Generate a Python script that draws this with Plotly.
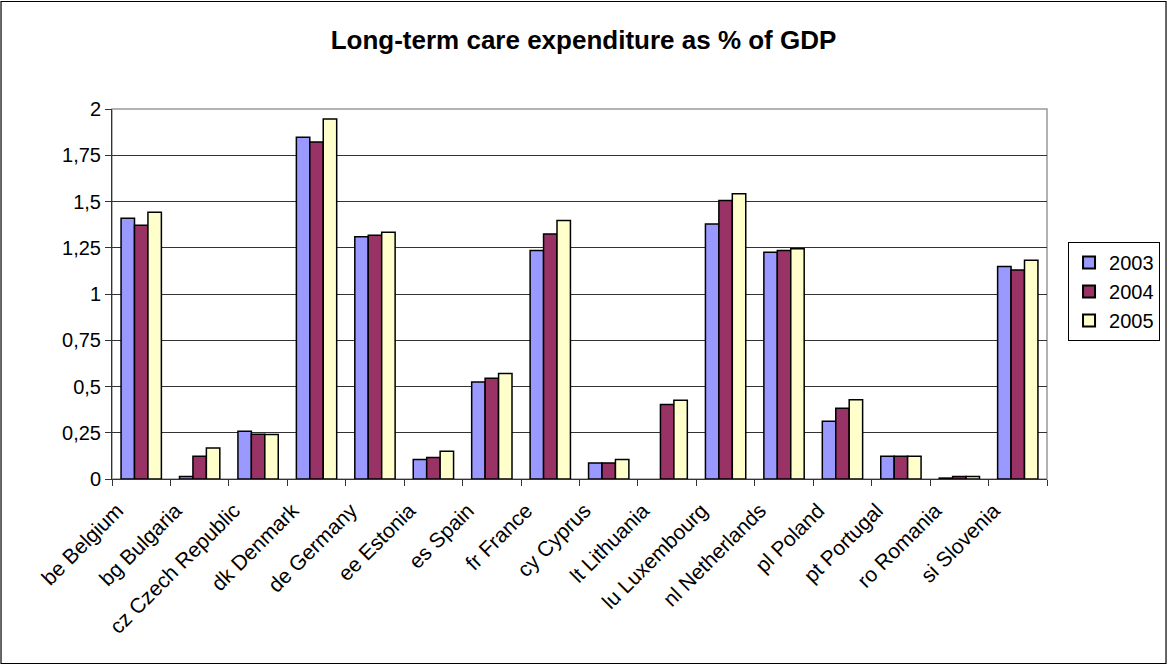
import plotly.graph_objects as go

categories = ["be Belgium", "bg Bulgaria", "cz Czech Republic", "dk Denmark", "de Germany",
              "ee Estonia", "es Spain", "fr France", "cy Cyprus", "lt Lithuania",
              "lu Luxembourg", "nl Netherlands", "pl Poland", "pt Portugal", "ro Romania",
              "si Slovenia"]
v2003 = [1.41, 0.014, 0.258, 1.847, 1.31, 0.105, 0.525, 1.235, 0.087, None, 1.379, 1.226, 0.312, 0.123, 0.005, 1.148]
v2004 = [1.372, 0.123, 0.242, 1.821, 1.318, 0.116, 0.545, 1.325, 0.087, 0.403, 1.505, 1.235, 0.383, 0.123, 0.014, 1.13]
v2005 = [1.442, 0.168, 0.240, 1.946, 1.334, 0.150, 0.570, 1.397, 0.105, 0.426, 1.542, 1.244, 0.428, 0.123, 0.014, 1.182]
series_names = ["2003", "2004", "2005"]
colors = ["#9999FF", "#993366", "#FFFFCC"]
tick_vals = [0, 0.25, 0.5, 0.75, 1, 1.25, 1.5, 1.75, 2]
tick_text = ["0", "0,25", "0,5", "0,75", "1", "1,25", "1,5", "1,75", "2"]

FONT = "Liberation Sans, Arial, sans-serif"

fig = go.Figure()
for name, vals, c in zip(series_names, [v2003, v2004, v2005], colors):
    fig.add_trace(go.Bar(x=categories, y=vals, name=name,
                         marker=dict(color=c, line=dict(color="black", width=1.5))))

fig.update_layout(
    width=1167, height=666,
    margin=dict(l=112, r=120, t=109, b=187, autoexpand=False),
    paper_bgcolor="white", plot_bgcolor="white",
    barmode="group", bargap=0.31, bargroupgap=0,
    font=dict(family=FONT, color="black", size=20),
    title=dict(text="<b>Long-term care expenditure as % of GDP</b>",
               x=0.5, xanchor="center", y=0.94, yanchor="middle",
               font=dict(size=26, family=FONT, color="black")),
    legend=dict(xref="container", yref="container", x=0.9152, y=0.6366,
                xanchor="left", yanchor="top",
                bordercolor="black", borderwidth=1, bgcolor="white",
                font=dict(size=20, family=FONT), tracegroupgap=4,
                itemwidth=30, itemsizing="constant"),
    xaxis=dict(tickangle=-45, ticks="outside", tickson="boundaries", ticklen=6,
               tickcolor="#333", showline=True, linecolor="#333", linewidth=1,
               tickfont=dict(size=21, family=FONT), mirror=False, automargin=False,
               ticklabelshift=-24, ticklabelstandoff=10),
    yaxis=dict(range=[0, 2], tickvals=tick_vals, ticktext=tick_text,
               ticks="outside", ticklen=6, tickcolor="#333",
               showgrid=True, gridcolor="#333", gridwidth=1,
               showline=True, linecolor="#333", linewidth=1,
               tickfont=dict(size=20, family=FONT), zeroline=False, automargin=False),
)

# plot area border (top/right, gray)
fig.add_shape(type="rect", xref="paper", yref="paper", x0=0, x1=1, y0=0, y1=1,
              line=dict(color="#999", width=1.5), layer="below")
# outer chart frame
fig.add_shape(type="rect", xref="paper", yref="paper",
              x0=-0.1187, x1=1.1273, y0=-0.4986, y1=1.2905,
              line=dict(color="black", width=1.2))

fig.write_html("out.html")
